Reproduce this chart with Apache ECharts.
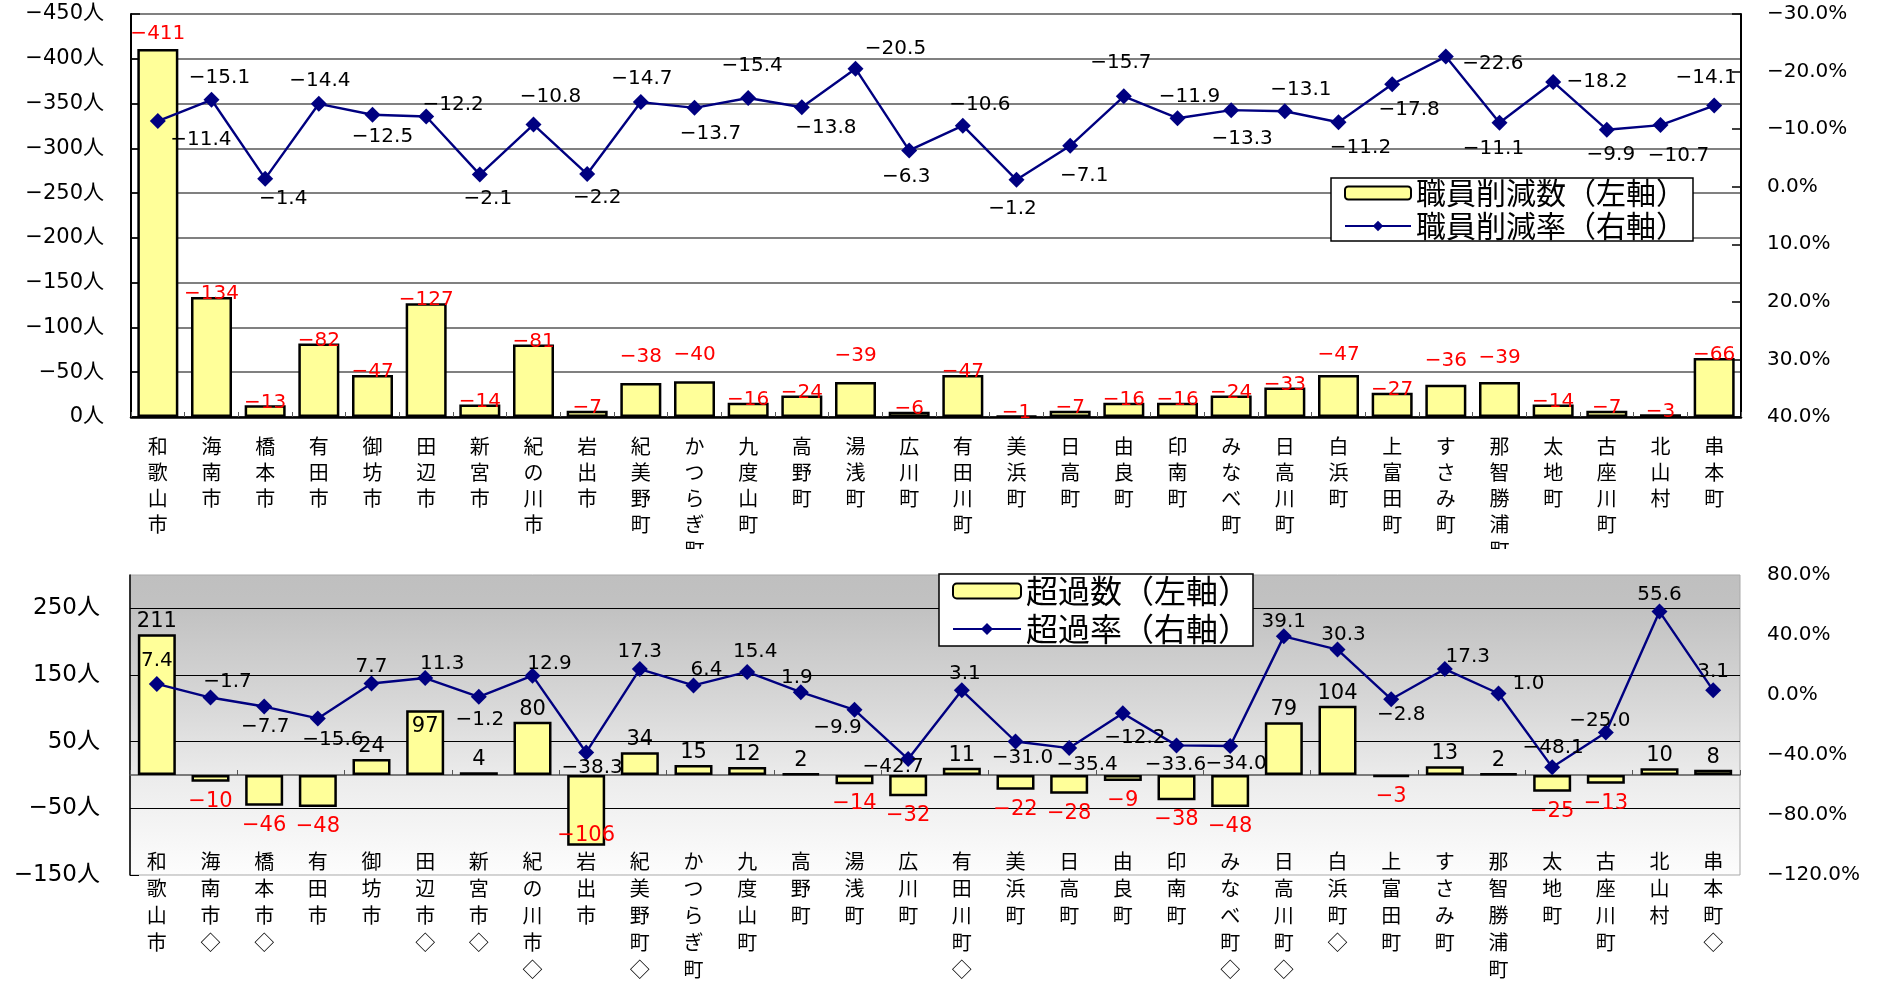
<!DOCTYPE html>
<html>
<head>
<meta charset="utf-8">
<script src="https://cdn.jsdelivr.net/npm/echarts@6/dist/echarts.min.js"></script>
<style>
  html, body { margin: 0; padding: 0; background: #ffffff; }
  #chart { width: 1881px; height: 983px; }
</style>
</head>
<body>
<div id="chart"></div>
<script>
// Municipalities of Wakayama prefecture, in chart order
const municipalities = [
  '和歌山市', '海南市', '橋本市', '有田市', '御坊市', '田辺市', '新宮市', '紀の川市',
  '岩出市', '紀美野町', 'かつらぎ町', '九度山町', '高野町', '湯浅町', '広川町', '有田川町',
  '美浜町', '日高町', '由良町', '印南町', 'みなべ町', '日高川町', '白浜町', '上富田町',
  'すさみ町', '那智勝浦町', '太地町', '古座川町', '北山村', '串本町'
];
// Municipalities flagged with ◇ in the lower chart
const flaggedMunicipalities = [
  '海南市', '橋本市', '田辺市', '新宮市', '紀の川市', '紀美野町', '有田川町',
  'みなべ町', '日高川町', '白浜町', '串本町'
];

// Upper chart: staff reduction (persons) and reduction rate (%)
const staffCut = [
  -411, -134, -13, -82, -47, -127, -14, -81, -7, -38, -40, -16, -24, -39, -6,
  -47, -1, -7, -16, -16, -24, -33, -47, -27, -36, -39, -14, -7, -3, -66
];
const staffCutRate = [
  -11.4, -15.1, -1.4, -14.4, -12.5, -12.2, -2.1, -10.8, -2.2, -14.7, -13.7, -15.4, -13.8, -20.5, -6.3,
  -10.6, -1.2, -7.1, -15.7, -11.9, -13.3, -13.1, -11.2, -17.8, -22.6, -11.1, -18.2, -9.9, -10.7, -14.1
];

// Lower chart: excess staff (persons) and excess rate (%)
const excessCount = [
  211, -10, -46, -48, 24, 97, 4, 80, -106, 34, 15, 12, 2, -14, -32,
  11, -22, -28, -9, -38, -48, 79, 104, -3, 13, 2, -25, -13, 10, 8
];
const excessRate = [
  7.4, -1.7, -7.7, -15.6, 7.7, 11.3, -1.2, 12.9, -38.3, 17.3, 6.4, 15.4, 1.9, -9.9, -42.7,
  3.1, -31.0, -35.4, -12.2, -33.6, -34.0, 39.1, 30.3, -2.8, 17.3, 1.0, -48.1, -25.0, 55.6, 3.1
];

const legendNames = {
  cut: '職員削減数（左軸）',
  cutRate: '職員削減率（右軸）',
  excess: '超過数（左軸）',
  excessRate: '超過率（右軸）'
};

// Label nudges (pixels from the diamond centre) for the rate lines
const cutRateLabelNudge = [
  [43, 19], [8, -22], [18, 20], [1, -23], [10, 22], [27, -12], [8, 24], [17, -28], [10, 24], [1, -23],
  [16, 26], [4, -32], [24, 21], [40, -20], [-3, 26], [17, -21], [-4, 29], [14, 30], [-3, -34], [12, -21],
  [11, 29], [16, -21], [22, 26], [17, 26], [47, 7], [-6, 26], [44, 0], [4, 25], [18, 31], [-8, -28]
];
const excessRateLabelNudge = [
  [0, -23], [17, -16], [1, 20], [15, 21], [0, -17], [17, -14], [1, 23], [17, -12], [6, 15], [0, -17],
  [13, -16], [8, -20], [-4, -14], [-17, 18], [-15, 8], [3, -17], [7, 16], [18, 17], [12, 24], [-1, 19],
  [6, 18], [0, -15], [6, -15], [10, 16], [23, -12], [30, -10], [1, -19], [-6, -12], [0, -17], [0, -19]
];
// Reduction-count labels that sit further above their bar
const cutLabelDistance = {
  '和歌山市': 5, '紀美野町': 16, 'かつらぎ町': 16, '湯浅町': 16,
  '白浜町': 10, 'すさみ町': 14, '那智勝浦町': 14
};
// Excess-count labels drawn inside their bar
const excessLabelInside = ['田辺市', '岩出市'];

const NUM_FONT = '"DejaVu Sans", "Noto Sans CJK JP", sans-serif';
const CJK_FONT = '"Noto Sans CJK JP", sans-serif';
const MINUS = '\u2212';

function signed(v, digits) {
  const s = digits == null ? String(Math.abs(v)) : Math.abs(v).toFixed(digits);
  return (v < 0 ? MINUS : '') + s;
}
function vertical(name) {
  return Array.from(name).join('\n');
}

const excessCategories = municipalities.map(n => flaggedMunicipalities.includes(n) ? n + '◇' : n);

function excessLabel(v, i) {
  const inside = excessLabelInside.includes(municipalities[i]);
  if (v >= 0) {
    return inside
      ? { position: 'insideTop', distance: 6, color: '#000000' }
      : { position: 'top', distance: 2, color: '#000000' };
  }
  return inside
    ? { position: 'insideBottom', distance: 0, color: '#ff0000' }
    : { position: 'bottom', distance: 9, color: '#ff0000' };
}

const chart = echarts.init(document.getElementById('chart'), null, { renderer: 'canvas' });

const option = {
  animation: false,
  backgroundColor: '#ffffff',
  grid: [
    { left: 131, width: 1610, top: 14, height: 403, show: false },
    {
      left: 130, width: 1610, top: 575, height: 307, show: true,
      borderColor: '#a9a9a9', borderWidth: 1,
      backgroundColor: new echarts.graphic.LinearGradient(0, 0, 0, 1, [
        { offset: 0, color: '#bfbfbf' },
        { offset: 0.12, color: '#c2c2c2' },
        { offset: 0.45, color: '#d9d9d9' },
        { offset: 0.68, color: '#ececec' },
        { offset: 1, color: '#fdfdfd' }
      ])
    }
  ],
  legend: [
    {
      data: [legendNames.cut, legendNames.cutRate],
      orient: 'vertical', left: 1331, top: 178,
      padding: [0, 7, 0, 13], itemGap: 3, itemWidth: 66, itemHeight: 13,
      backgroundColor: '#ffffff', borderColor: '#000000', borderWidth: 1.5,
      textStyle: { fontFamily: CJK_FONT, fontSize: 30, color: '#000000' }
    },
    {
      data: [legendNames.excess, legendNames.excessRate],
      orient: 'vertical', left: 939, top: 574,
      padding: [1, 3, 1, 13], itemGap: 6, itemWidth: 68, itemHeight: 15,
      backgroundColor: '#ffffff', borderColor: '#000000', borderWidth: 1.5,
      textStyle: { fontFamily: CJK_FONT, fontSize: 32, color: '#000000' }
    }
  ],
  xAxis: [
    {
      gridIndex: 0, type: 'category', data: municipalities, position: 'bottom',
      axisLine: { onZero: false, lineStyle: { color: '#000000', width: 2.5 } },
      axisTick: { show: true, inside: true, length: 5, lineStyle: { color: '#555555', width: 1 } },
      axisLabel: {
        interval: 0, margin: 16, fontFamily: CJK_FONT, fontSize: 20, lineHeight: 26,
        color: '#000000', formatter: vertical
      }
    },
    {
      // zero line of the lower chart
      gridIndex: 1, type: 'category', data: excessCategories,
      axisLine: { onZero: true, onZeroAxisIndex: 2, lineStyle: { color: '#555555', width: 1.5 } },
      axisTick: { show: true, inside: true, length: 5, lineStyle: { color: '#555555', width: 1 } },
      axisLabel: { show: false }
    },
    {
      // category names of the lower chart
      gridIndex: 1, type: 'category', data: excessCategories, position: 'bottom',
      axisLine: { show: false, onZero: false }, axisTick: { show: false },
      axisLabel: {
        interval: 0, margin: -27, fontFamily: CJK_FONT, fontSize: 20, lineHeight: 27,
        color: '#000000', formatter: vertical
      }
    }
  ],
  yAxis: [
    {
      gridIndex: 0, type: 'value', min: -450, max: 0, interval: 50, inverse: true, position: 'left',
      axisLine: { show: true, lineStyle: { color: '#000000', width: 2 } },
      axisTick: { show: true, inside: true, length: 9, lineStyle: { color: '#000000', width: 1.5 } },
      splitLine: { show: true, lineStyle: { color: '#808080', width: 2 } },
      axisLabel: {
        margin: 27, fontFamily: NUM_FONT, fontSize: 21, color: '#000000',
        formatter: v => signed(v) + '人'
      }
    },
    {
      gridIndex: 0, type: 'value', min: -30, max: 40, interval: 10, inverse: true, position: 'right',
      axisLine: { show: true, lineStyle: { color: '#000000', width: 2 } },
      axisTick: { show: true, inside: true, length: 9, lineStyle: { color: '#000000', width: 1.5 } },
      splitLine: { show: false },
      axisLabel: {
        margin: 26, fontFamily: NUM_FONT, fontSize: 20, color: '#000000',
        formatter: v => signed(v, 1) + '%'
      }
    },
    {
      gridIndex: 1, type: 'value', min: -150, max: 300, interval: 100, position: 'left',
      axisLine: { show: true, lineStyle: { color: '#000000', width: 1.5 } },
      axisTick: { show: true, inside: true, length: 9, lineStyle: { color: '#000000', width: 1 } },
      splitLine: { show: true, showMinLine: false, showMaxLine: false, lineStyle: { color: '#000000', width: 1.2 } },
      axisLabel: {
        margin: 30, fontFamily: NUM_FONT, fontSize: 23, color: '#000000', showMaxLabel: false,
        formatter: v => (v >= 300 ? '' : signed(v) + '人')
      }
    },
    {
      gridIndex: 1, type: 'value', min: -120, max: 80, interval: 40, position: 'right',
      axisLine: { show: false }, axisTick: { show: false }, splitLine: { show: false },
      axisLabel: {
        margin: 27, fontFamily: NUM_FONT, fontSize: 20, color: '#000000',
        formatter: v => signed(v, 1) + '%'
      }
    }
  ],
  series: [
    {
      name: legendNames.cut, type: 'bar', xAxisIndex: 0, yAxisIndex: 0, barWidth: 41,
      itemStyle: { color: '#ffff99', borderColor: '#000000', borderWidth: 2.5 },
      label: {
        show: true, position: 'top', color: '#ff0000', fontFamily: NUM_FONT, fontSize: 20,
        formatter: p => signed(p.value)
      },
      data: staffCut.map((v, i) => ({
        value: v,
        label: { distance: cutLabelDistance[municipalities[i]] ?? -7 }
      }))
    },
    {
      name: legendNames.cutRate, type: 'line', xAxisIndex: 0, yAxisIndex: 1,
      symbol: 'diamond', symbolSize: 16,
      lineStyle: { color: '#000080', width: 2.4 },
      itemStyle: { color: '#000080' },
      label: {
        show: true, position: 'inside', color: '#000000', fontFamily: NUM_FONT, fontSize: 20,
        formatter: p => signed(p.value, 1)
      },
      data: staffCutRate.map((v, i) => ({ value: v, label: { offset: cutRateLabelNudge[i] } }))
    },
    {
      name: legendNames.excess, type: 'bar', xAxisIndex: 1, yAxisIndex: 2, barWidth: 38,
      itemStyle: { color: '#ffff99', borderColor: '#000000', borderWidth: 2.5 },
      label: { show: true, fontFamily: NUM_FONT, fontSize: 21, formatter: p => signed(p.value) },
      data: excessCount.map((v, i) => ({ value: v, label: excessLabel(v, i) }))
    },
    {
      name: legendNames.excessRate, type: 'line', xAxisIndex: 1, yAxisIndex: 3,
      symbol: 'diamond', symbolSize: 16,
      lineStyle: { color: '#000080', width: 2.4 },
      itemStyle: { color: '#000080' },
      label: {
        show: true, position: 'inside', color: '#000000', fontFamily: NUM_FONT, fontSize: 20,
        formatter: p => signed(p.value, 1)
      },
      data: excessRate.map((v, i) => ({ value: v, label: { offset: excessRateLabelNudge[i] } }))
    }
  ],
  graphic: [
    {
      // the upper chart's category names end where its frame ends
      type: 'rect', z: 100, silent: true,
      shape: { x: 100, y: 549, width: 1650, height: 24 },
      style: { fill: '#ffffff' }
    }
  ]
};

chart.setOption(option);
</script>
</body>
</html>
